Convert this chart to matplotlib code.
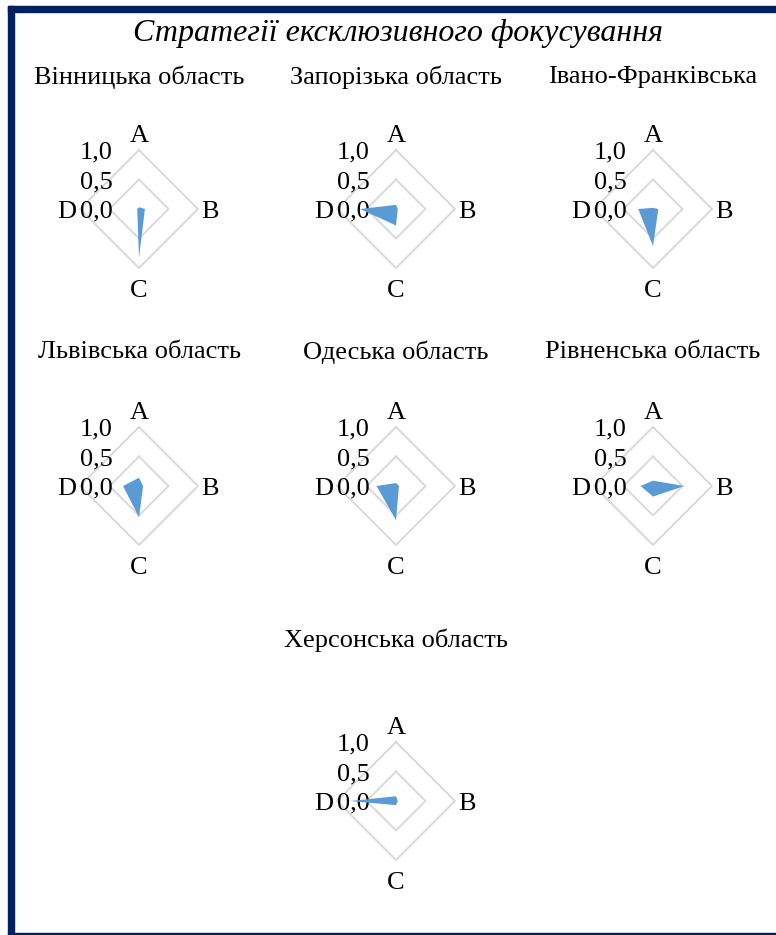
import numpy as np
import matplotlib.pyplot as plt
from matplotlib.patches import Rectangle

plt.rcParams['font.family'] = ['Liberation Serif', 'DejaVu Serif']

# chart data: values on axes A, B, C, D for each region
title = "Стратегії ексклюзивного фокусування"
axis_names = ["A", "B", "C", "D"]
tick_labels = ["0,0", "0,5", "1,0"]
tick_values = [0.0, 0.5, 1.0]
regions = ["Вінницька область", "Запорізька область", "Івано-Франківська",
           "Львівська область", "Одеська область", "Рівненська область",
           "Херсонська область"]
vinnytsia = [0.03, 0.10, 0.83, 0.03]
zaporizhzhia = [0.07, 0.03, 0.28, 0.61]
ivano_frankivsk = [0.02, 0.09, 0.63, 0.25]
lviv = [0.14, 0.07, 0.53, 0.27]
odesa = [0.05, 0.05, 0.58, 0.33]
rivne = [0.09, 0.53, 0.18, 0.21]
kherson = [0.08, 0.03, 0.07, 0.78]
values = [vinnytsia, zaporizhzhia, ivano_frankivsk, lviv, odesa, rivne, kherson]

W, H = 776, 935
fig = plt.figure(figsize=(W / 100, H / 100), dpi=100)

# frame: navy bands on top and left, thin line at the bottom
navy = "#002060"
fig.patches.append(Rectangle((8 / W, (H - 12) / H), 1 - 8 / W, 6 / H,
                             transform=fig.transFigure, color=navy, zorder=0))
fig.patches.append(Rectangle((8 / W, 0), 6 / W, (H - 6) / H,
                             transform=fig.transFigure, color=navy, zorder=0))
fig.patches.append(Rectangle((8 / W, 1 / H), 1 - 8 / W, 1.5 / H,
                             transform=fig.transFigure, color=navy, zorder=0))

fig.text(398 / W, 1 - 33 / H, title, ha="center", va="center",
         fontsize=23, style="italic")

# chart centres in pixels and radius of the 1,0 level
centres = [(139, 209), (396, 209), (653, 209),
           (139, 486), (396, 486), (653, 486),
           (396, 801)]
title_y = [77, 77, 77, 352, 352, 352, 640]
R = 59
half = 1.5 * R
fs = 19
dy = -0.045  # small downward nudge for text

# angles clockwise from the top: A, B, C, D
ang = np.arange(len(axis_names)) * 2 * np.pi / len(axis_names)

for name, vals, (cx, cy), ty in zip(regions, values, centres, title_y):
    fig.text(cx / W, 1 - ty / H, name, ha="center", va="center", fontsize=fs)
    ax = fig.add_axes([(cx - half) / W, (H - cy - half) / H, 2 * half / W, 2 * half / H])
    ax.set_xlim(-1.5, 1.5)
    ax.set_ylim(-1.5, 1.5)
    ax.axis("off")
    a = np.append(ang, ang[0])
    for lv in tick_values[1:]:
        r = np.full(len(a), lv)
        ax.plot(r * np.sin(a), r * np.cos(a), color="#D9D9D9", lw=1.4, zorder=1)
    v = np.array(vals + vals[:1])
    ax.fill(v * np.sin(a), v * np.cos(a), color="#5B9BD5", lw=0, zorder=4)
    for lab, tv in zip(tick_labels, tick_values):
        ax.text(-0.45, tv + dy, lab, ha="right", va="center", fontsize=fs, zorder=3)
    ax.text(0, 1.29 + dy, "A", ha="center", va="center", fontsize=fs)
    ax.text(1.2, dy, "B", ha="center", va="center", fontsize=fs)
    ax.text(0, -1.34 + dy, "C", ha="center", va="center", fontsize=fs)
    ax.text(-1.22, dy, "D", ha="center", va="center", fontsize=fs)

fig.savefig("out.png", dpi=100)
